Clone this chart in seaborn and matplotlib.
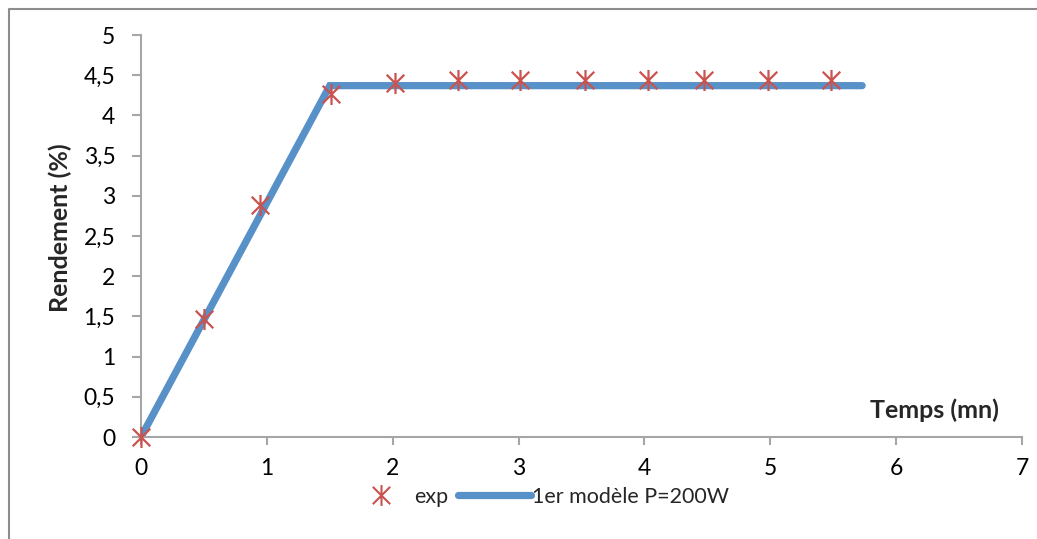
import numpy as np
import pandas as pd
import seaborn as sns
import matplotlib
matplotlib.use("Agg")
import matplotlib.pyplot as plt
from matplotlib.path import Path
from matplotlib.lines import Line2D
from matplotlib.ticker import FuncFormatter, MultipleLocator

# Experimental yield measurements
temps_exp = [0.0, 0.5, 0.945, 1.51, 2.02, 2.52, 3.01, 3.53, 4.03, 4.47, 4.98, 5.48]
rendement_exp = [0.0, 1.47, 2.885, 4.27, 4.40, 4.44, 4.44, 4.44, 4.44, 4.44, 4.44, 4.44]

# First model, P = 200 W
temps_mod = [0.0, 1.5, 5.73]
rendement_mod = [0.0, 4.37, 4.37]

exp_label = "exp"
mod_label = "1er modèle P=200W"

sns.set_style("ticks")
plt.rcParams["font.family"] = ["Lato", "DejaVu Sans"]

W, H = 1037, 539
fig = plt.figure(figsize=(W / 100, H / 100), dpi=100)
ax = fig.add_axes([141 / W, 1 - 437 / H, (1022 - 141) / W, (437 - 35) / H])

red = "#C9534F"
blue = "#5890C8"
grey = "#A6A6A6"

# asterisk marker: an X plus a vertical bar
star = Path(
    [(-1, -1), (1, 1), (-1, 1), (1, -1), (0, -1.2), (0, 1.2)],
    [Path.MOVETO, Path.LINETO, Path.MOVETO, Path.LINETO, Path.MOVETO, Path.LINETO],
)

df_mod = pd.DataFrame({"t": temps_mod, "r": rendement_mod})
df_exp = pd.DataFrame({"t": temps_exp, "r": rendement_exp})

sns.lineplot(data=df_mod, x="t", y="r", ax=ax, color=blue, linewidth=5.2,
             solid_capstyle="round", solid_joinstyle="miter", zorder=2,
             legend=False)
sns.scatterplot(data=df_exp, x="t", y="r", ax=ax, marker=star, s=230,
                color=red, edgecolor=red, linewidth=1.6, zorder=3,
                clip_on=False, legend=False)

ax.set_xlim(0, 7)
ax.set_ylim(0, 5)
ax.xaxis.set_major_locator(MultipleLocator(1))
ax.yaxis.set_major_locator(MultipleLocator(0.5))
ax.yaxis.set_major_formatter(FuncFormatter(lambda v, p: f"{v:g}".replace(".", ",")))

for side in ("top", "right"):
    ax.spines[side].set_visible(False)
for side in ("left", "bottom"):
    ax.spines[side].set_color(grey)
    ax.spines[side].set_linewidth(1.5)

ax.tick_params(axis="both", colors=grey, width=1.5, labelcolor="black",
               labelsize=16.5, direction="out")
ax.tick_params(axis="x", length=6, pad=9)
ax.tick_params(axis="y", length=6.5, pad=12)

ax.set_xlabel("Temps (mn)", fontsize=18, fontweight="bold")
ax.xaxis.label.set_va("center")
ax.xaxis.set_label_coords(0.901, 0.067)
ax.set_ylabel("Rendement (%)", fontsize=18, fontweight="bold")
ax.yaxis.label.set_va("center")
ax.yaxis.set_label_coords(-0.092, 0.52)

# legend entries placed side by side below the plot
leg_y = 1 - 497 / H
leg_exp = fig.legend(
    [Line2D([], [], linestyle="none", marker=star, markersize=15,
            markeredgecolor=red, markerfacecolor="none", markeredgewidth=1.5)],
    [exp_label], loc="center left", bbox_to_anchor=(365 / W, leg_y),
    frameon=False, fontsize=15.5, handlelength=1.5, handletextpad=0.8,
    borderpad=0, borderaxespad=0)
leg_mod = fig.legend(
    [Line2D([], [], color=blue, linewidth=5.2, solid_capstyle="round")],
    [mod_label], loc="center left", bbox_to_anchor=(458 / W, leg_y),
    frameon=False, fontsize=15.5, handlelength=3.4, handletextpad=0.05,
    borderpad=0, borderaxespad=0)

# outer frame of the chart area
fig.add_artist(Line2D([9 / W, 9 / W, 1.0], [0.0, 1 - 9 / H, 1 - 9 / H],
                      transform=fig.transFigure, color="#8C8C8C", linewidth=1.5))

fig.savefig("out.png", dpi=100)
